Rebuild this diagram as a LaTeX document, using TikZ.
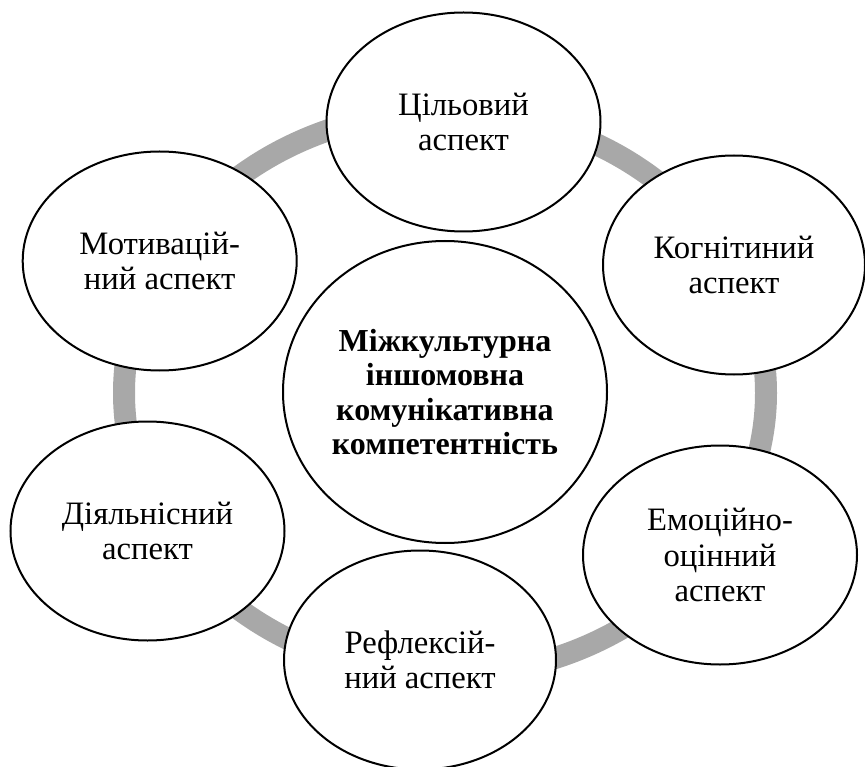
\documentclass[tikz,border=0pt]{standalone}
\usepackage{fontspec}
\setmainfont{Liberation Serif}
\usepackage{tikz}
\usetikzlibrary{shapes.geometric}
\usetikzlibrary{math}
\definecolor{ringgray}{RGB}{168,168,168}
\tikzstyle{aspect} = [ellipse, draw=black, line width=2pt, fill=white, minimum width=274pt, minimum height=219pt, inner sep=0pt, align=center, font=\fontsize{32.7}{35.5}\selectfont]
\tikzstyle{core} = [ellipse, draw=black, line width=2pt, fill=white, minimum width=324pt, minimum height=302pt, inner sep=0pt, align=center, font=\bfseries\fontsize{32}{34.5}\selectfont]

\begin{document}
\begin{tikzpicture}[x=1pt, y=-1pt]

  \tikzmath{\cx = 445; \cy = 393; \rx = 321; \ry = 282;}

  \useasboundingbox (0,0) rectangle (865,767);

  % ring
  \draw[ringgray, line width=22pt] (\cx,\cy) ellipse [x radius=\rx, y radius=\ry];

  % centre
  \node[core] (mikk) at (445,392) {Міжкультурна\\іншомовна\\комунікативна\\компетентність};

  % aspects
  \node[aspect] (cil) at (463.5,122) {Цільовий\\аспект};
  \node[aspect, minimum width=262pt] (kogn) at (734,265) {Когнітиний\\аспект};
  \node[aspect] (emoc) at (720,555) {Емоційно-\\оцінний\\аспект};
  \node[aspect, minimum width=272pt] (refl) at (420,660) {Рефлексій-\\ний аспект};
  \node[aspect] (diyal) at (147.5,531) {Діяльнісний\\аспект};
  \node[aspect] (motyv) at (159.7,261) {Мотивацій-\\ний аспект};

\end{tikzpicture}
\end{document}
